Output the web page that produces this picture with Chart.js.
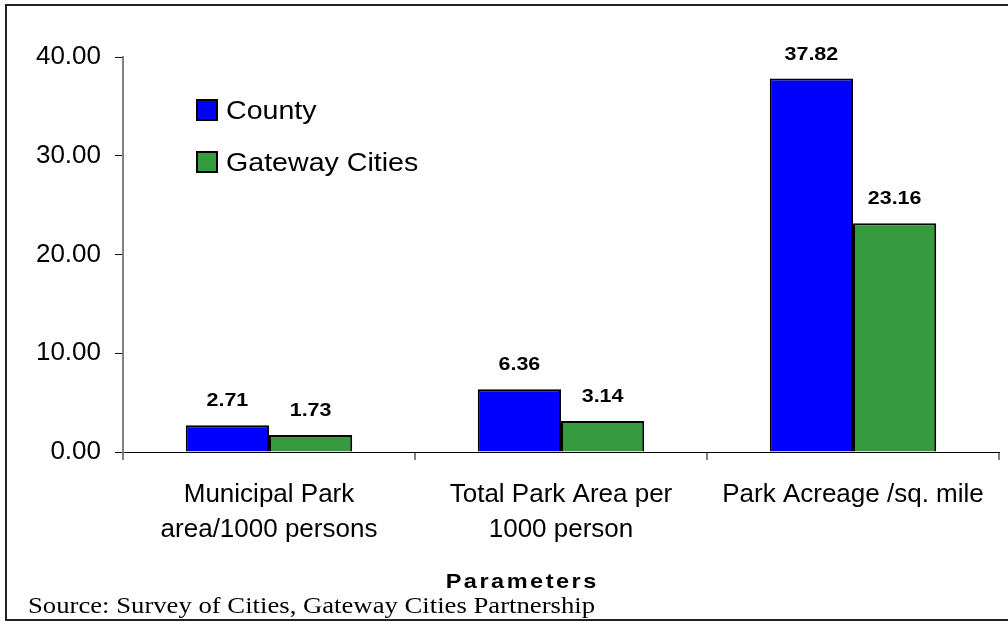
<!DOCTYPE html>
<html>
<head>
<meta charset="utf-8">
<title>Park Parameters</title>
<script src="https://cdn.jsdelivr.net/npm/chart.js@4/dist/chart.umd.min.js"></script>
<style>
  html, body { margin: 0; padding: 0; background: #fff; }
  #wrap { width: 1008px; height: 621px; }
</style>
</head>
<body>
<div id="wrap"><canvas id="parkChart" width="1008" height="621"></canvas></div>
<script>
const categories = [
  ['Municipal Park', 'area/1000 persons'],
  ['Total Park Area per', '1000 person'],
  ['Park Acreage /sq. mile'],
];
const seriesNames = ['County', 'Gateway Cities'];
const countyValues = [2.71, 6.36, 37.82];
const gatewayValues = [1.73, 3.14, 23.16];
const yTicks = [0, 10, 20, 30, 40];

const SANS = "'Liberation Sans', Arial, sans-serif";
const SERIF = "'Liberation Serif', 'Times New Roman', serif";

// text drawn a little wider than the font's natural width
function wideText(ctx, text, x, y, sx) {
  ctx.save();
  ctx.translate(x, y);
  ctx.scale(sx, 1);
  ctx.fillText(text, 0, 0);
  ctx.restore();
}

// letter-spaced text, centred on cx
function spacedText(ctx, text, cx, y, gap, sx) {
  const chars = text.split('');
  const widths = chars.map((c) => ctx.measureText(c).width * sx);
  const total = widths.reduce((a, b) => a + b, 0) + gap * (chars.length - 1);
  let x = cx - total / 2;
  chars.forEach((c, i) => {
    wideText(ctx, c, x, y, sx);
    x += widths[i] + gap;
  });
}

// Outer frame, legend, value labels, axis title and source note
const decorations = {
  id: 'decorations',
  afterDraw(chart) {
    const ctx = chart.ctx;
    const area = chart.chartArea;
    ctx.save();

    // frame
    ctx.strokeStyle = '#222';
    ctx.lineWidth = 2;
    ctx.strokeRect(6, 5, 1010, 615);

    // value labels above bars
    ctx.fillStyle = '#000';
    ctx.font = 'bold 19px ' + SANS;
    ctx.textAlign = 'center';
    ctx.textBaseline = 'alphabetic';
    chart.data.datasets.forEach((ds, i) => {
      chart.getDatasetMeta(i).data.forEach((bar, j) => {
        wideText(ctx, ds.data[j].toFixed(2), bar.x, bar.y - 19, 1.13);
      });
    });

    // legend
    ctx.font = '26px ' + SANS;
    ctx.textAlign = 'left';
    chart.data.datasets.forEach((ds, i) => {
      const y = area.top + 43 + i * 52;
      const x = area.left + 74;
      ctx.fillStyle = ds.backgroundColor;
      ctx.fillRect(x, y, 20, 20);
      ctx.strokeStyle = '#000';
      ctx.lineWidth = 2;
      ctx.strokeRect(x, y, 20, 20);
      ctx.fillStyle = '#000';
      wideText(ctx, ds.label, x + 29, y + 19, 1.1);
    });

    // axis title
    ctx.font = 'bold 21px ' + SANS;
    spacedText(ctx, 'Parameters', 521, 588, 2.5, 1.12);

    // source note
    ctx.font = '23px ' + SERIF;
    const note = 'Source: Survey of Cities, Gateway Cities Partnership';
    const nw = ctx.measureText(note).width;
    wideText(ctx, note, 28, 613, 567 / nw);

    ctx.restore();
  },
};

new Chart(document.getElementById('parkChart'), {
  type: 'bar',
  data: {
    labels: categories,
    datasets: [
      {
        label: seriesNames[0],
        data: countyValues,
        backgroundColor: '#0000ff',
        borderColor: '#000',
        borderWidth: 2,
      },
      {
        label: seriesNames[1],
        data: gatewayValues,
        backgroundColor: '#369a3e',
        borderColor: '#000',
        borderWidth: 2,
      },
    ],
  },
  options: {
    responsive: false,
    animation: false,
    layout: { padding: { top: 57, right: 9, left: 0, bottom: 0 } },
    datasets: { bar: { categoryPercentage: 0.57, barPercentage: 1.0, borderSkipped: 'bottom' } },
    plugins: {
      legend: { display: false },
      tooltip: { enabled: false },
    },
    scales: {
      x: {
        afterFit(scale) { scale.height = 169; },
        border: { color: '#000', width: 1 },
        grid: { drawOnChartArea: false, offset: true, tickLength: 8, tickColor: '#808080', lineWidth: 2 },
        ticks: {
          color: '#000',
          padding: 17,
          font: { family: SANS, size: 26, lineHeight: 1.35 },
          maxRotation: 0,
          autoSkip: false,
        },
      },
      y: {
        min: yTicks[0],
        max: yTicks[yTicks.length - 1],
        afterFit(scale) { scale.width = 123; },
        afterBuildTicks(scale) { scale.ticks = yTicks.map((v) => ({ value: v })); },
        border: { color: '#808080', width: 2 },
        grid: { drawOnChartArea: false, tickLength: 8, tickColor: '#000', lineWidth: 1 },
        ticks: {
          color: '#000',
          padding: 14,
          font: { family: SANS, size: 26 },
          callback: (v) => Number(v).toFixed(2),
        },
      },
    },
  },
  plugins: [decorations],
});
</script>
</body>
</html>
